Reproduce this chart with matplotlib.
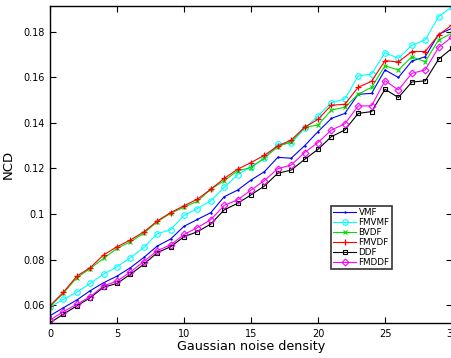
import numpy as np
import matplotlib
matplotlib.use('Agg')
import matplotlib.pyplot as plt

density = np.arange(0, 31)

vmf = [0.0553, 0.0588, 0.0622, 0.0663, 0.0698, 0.0727, 0.0764, 0.0809, 0.0859, 0.0890,
       0.0946, 0.0976, 0.1006, 0.1076, 0.1105, 0.1149, 0.1186, 0.1249, 0.1245, 0.1300,
       0.1362, 0.1420, 0.1442, 0.1526, 0.1530, 0.1633, 0.1600, 0.1672, 0.1691, 0.1790, 0.1816]
fmvmf = [0.0591, 0.0625, 0.0656, 0.0695, 0.0736, 0.0768, 0.0808, 0.0853, 0.0913, 0.0931,
         0.0994, 0.1024, 0.1058, 0.1117, 0.1173, 0.1207, 0.1245, 0.1307, 0.1310, 0.1377,
         0.1431, 0.1489, 0.1505, 0.1607, 0.1615, 0.1709, 0.1684, 0.1741, 0.1765, 0.1867, 0.1911]
bvdf = [0.0593, 0.0652, 0.0720, 0.0760, 0.0805, 0.0849, 0.0878, 0.0915, 0.0966, 0.1003,
        0.1030, 0.1056, 0.1109, 0.1146, 0.1190, 0.1204, 0.1246, 0.1296, 0.1318, 0.1381,
        0.1391, 0.1457, 0.1469, 0.1526, 0.1557, 0.1651, 0.1633, 0.1691, 0.1669, 0.1765, 0.1794]
fmvdf = [0.0597, 0.0656, 0.0727, 0.0764, 0.0820, 0.0856, 0.0886, 0.0921, 0.0969, 0.1006,
         0.1036, 0.1065, 0.1109, 0.1156, 0.1197, 0.1226, 0.1258, 0.1299, 0.1325, 0.1381,
         0.1416, 0.1478, 0.1482, 0.1557, 0.1583, 0.1674, 0.1668, 0.1714, 0.1714, 0.1787, 0.1831]
ddf = [0.0522, 0.0560, 0.0596, 0.0632, 0.0678, 0.0695, 0.0735, 0.0779, 0.0830, 0.0856,
       0.0900, 0.0922, 0.0956, 0.1018, 0.1047, 0.1084, 0.1123, 0.1179, 0.1193, 0.1240,
       0.1284, 0.1340, 0.1369, 0.1442, 0.1450, 0.1548, 0.1512, 0.1580, 0.1585, 0.1680, 0.1728]
fmddf = [0.0534, 0.0571, 0.0603, 0.0637, 0.0684, 0.0705, 0.0745, 0.0791, 0.0839, 0.0864,
         0.0910, 0.0940, 0.0975, 0.1038, 0.1062, 0.1105, 0.1147, 0.1199, 0.1215, 0.1270,
         0.1314, 0.1369, 0.1396, 0.1475, 0.1475, 0.1586, 0.1545, 0.1618, 0.1633, 0.1732, 0.1778]

fig = plt.figure(figsize=(4.51, 3.58), dpi=100)
ax = fig.add_axes([50/451, 35/358, 402/451, 317/358])

ax.plot(density, vmf, color='blue', lw=0.8, marker='+', ms=1.5, label='VMF')
ax.plot(density, fmvmf, color='cyan', lw=0.8, marker='o', ms=4, mfc='none', mew=0.8, label='FMVMF')
ax.plot(density, bvdf, color='#00dd00', lw=0.8, marker='x', ms=3.2, mew=0.8, label='BVDF')
ax.plot(density, fmvdf, color='red', lw=0.8, marker='+', ms=4.5, mew=0.9, label='FMVDF')
ax.plot(density, ddf, color='black', lw=0.8, marker='s', ms=3, mfc='none', mew=0.8, label='DDF')
ax.plot(density, fmddf, color='magenta', lw=0.8, marker='D', ms=3.5, mfc='none', mew=0.8, label='FMDDF')

ax.set_xlim(0, 30)
ax.set_ylim(0.0521, 0.1914)
ax.set_xticks([0, 5, 10, 15, 20, 25, 30])
ax.set_yticks([0.06, 0.08, 0.1, 0.12, 0.14, 0.16, 0.18])
ax.set_yticklabels(['0.06', '0.08', '0.1', '0.12', '0.14', '0.16', '0.18'])
ax.tick_params(direction='in', top=True, right=True, labelsize=7, length=4, width=0.8, pad=4)
for s in ax.spines.values():
    s.set_linewidth(1.0)

ax.set_xlabel('Gaussian noise density', fontsize=9.2, labelpad=1)
ax.set_ylabel('NCD', fontsize=9.5, labelpad=6)

leg = ax.legend(loc='upper left', bbox_to_anchor=(281/402, 117/317), fontsize=6.3,
                frameon=True, fancybox=False, edgecolor='black', borderpad=0.25,
                labelspacing=0.1, handlelength=2.6, handletextpad=0.3, borderaxespad=0)
leg.get_frame().set_linewidth(1.2)

fig.savefig('out.png', dpi=100)
